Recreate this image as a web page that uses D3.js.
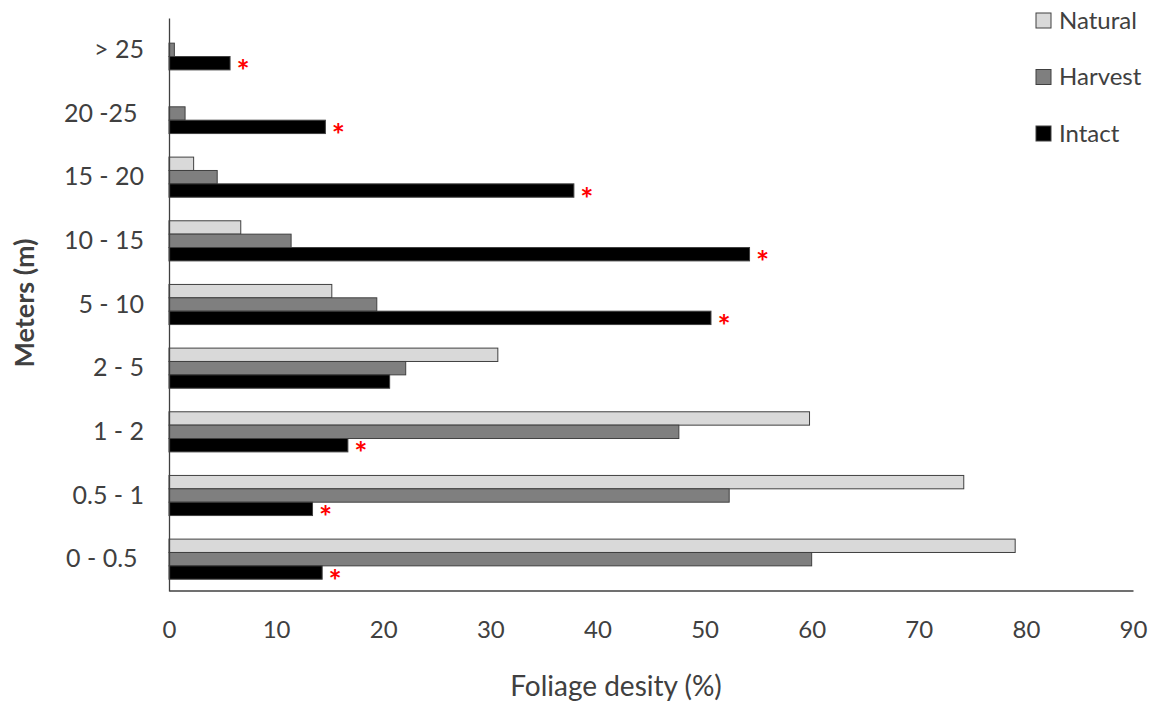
<!DOCTYPE html>
<html>
<head>
<meta charset="utf-8">
<script src="https://cdn.jsdelivr.net/npm/d3@7"></script>
<style>
  html, body { margin: 0; padding: 0; background: #fff; }
  svg { display: block; font-family: Lato, "Open Sans", sans-serif; }
</style>
</head>
<body>
<svg id="chart" width="1154" height="702"></svg>
<script>
// ---- data ----
const categories = ["0 - 0.5 ", "0.5 - 1", "1 - 2", "2 - 5", "5 - 10", "10 - 15", "15 - 20", "20 -25 ", "> 25"];
const seriesNames = ["Natural", "Harvest", "Intact"];
const natural = [79.0, 74.2, 59.8, 30.7, 15.2, 6.7, 2.3, 0, 0];
const harvest = [60.0, 52.3, 47.6, 22.1, 19.4, 11.4, 4.5, 1.5, 0.5];
const intact  = [14.3, 13.4, 16.7, 20.6, 50.6, 54.2, 37.8, 14.6, 5.7];
const significant = [true, true, true, false, true, true, true, true, true];
const xTicks = [0, 10, 20, 30, 40, 50, 60, 70, 80, 90];
const colors = ["#d9d9d9", "#7f7f7f", "#000000"];

const seriesValues = [natural, harvest, intact];

// ---- layout ----
const svg = d3.select("#chart");
const mLeft = 169, mRight = 1133, mTop = 18, mBottom = 591;
const textColor = "#404040";

const x = d3.scaleLinear().domain([0, 90]).range([mLeft, mRight]);
const y = d3.scaleBand().domain(categories).range([mBottom, mTop])
  .paddingInner(0.37).paddingOuter(0.185);
const ySub = d3.scaleBand().domain(seriesNames).range([0, y.bandwidth()]);

// bars
const rows = [];
categories.forEach((c, i) => {
  seriesNames.forEach((s, j) => {
    rows.push({ cat: c, series: s, value: seriesValues[j][i], color: colors[j] });
  });
});

svg.append("g").selectAll("rect")
  .data(rows.filter(d => d.value > 0))
  .join("rect")
  .attr("x", x(0))
  .attr("y", d => y(d.cat) + ySub(d.series))
  .attr("width", d => x(d.value) - x(0))
  .attr("height", ySub.bandwidth())
  .attr("fill", d => d.color)
  .attr("stroke", "#404040")
  .attr("stroke-width", 1);

// significance asterisks
svg.append("g").selectAll("text")
  .data(categories.map((c, i) => ({ cat: c, v: intact[i], sig: significant[i] })).filter(d => d.sig))
  .join("text")
  .attr("x", d => x(d.v) + 13)
  .attr("y", d => y(d.cat) + ySub("Intact") + ySub.bandwidth() / 2 + 19)
  .attr("text-anchor", "middle")
  .attr("fill", "#ff0000")
  .attr("font-size", 31)
  .attr("font-weight", "bold")
  .text("*");

// axes lines
const xAxis = d3.axisBottom(x).tickValues(xTicks).tickSize(0).tickPadding(30);
const gx = svg.append("g").attr("transform", `translate(0,${mBottom - 0.5})`).call(xAxis);
gx.select(".domain").attr("stroke", "#404040").attr("stroke-width", 1.3);
gx.selectAll("text").attr("font-size", 24).attr("fill", textColor).attr("font-family", "Lato, sans-serif");

const yAxis = d3.axisLeft(y).tickSize(0).tickPadding(25);
const gy = svg.append("g").attr("transform", `translate(${mLeft},0)`).call(yAxis);
gy.select(".domain").attr("stroke", "#404040").attr("stroke-width", 1.3);
gy.selectAll("text").attr("font-size", 25).attr("fill", textColor)
  .attr("font-family", "Lato, sans-serif").style("white-space", "pre");

// axis titles
svg.append("text")
  .attr("x", 616)
  .attr("y", 696)
  .attr("text-anchor", "middle")
  .attr("font-size", 28)
  .attr("fill", textColor)
  .text("Foliage desity (%)");

svg.append("text")
  .attr("transform", "translate(34,303) rotate(-90)")
  .attr("text-anchor", "middle")
  .attr("font-size", 27)
  .attr("font-weight", "bold")
  .attr("fill", textColor)
  .text("Meters (m)");

// legend
const legend = svg.append("g").selectAll("g")
  .data(seriesNames)
  .join("g")
  .attr("transform", (d, i) => `translate(1036,${13 + i * 56.5})`);
legend.append("rect")
  .attr("width", 15).attr("height", 15)
  .attr("fill", (d, i) => colors[i])
  .attr("stroke", "#404040").attr("stroke-width", 1);
legend.append("text")
  .attr("x", 23).attr("y", 7.5).attr("dy", "0.35em")
  .attr("font-size", 24).attr("fill", textColor)
  .text(d => d);
</script>
</body>
</html>
